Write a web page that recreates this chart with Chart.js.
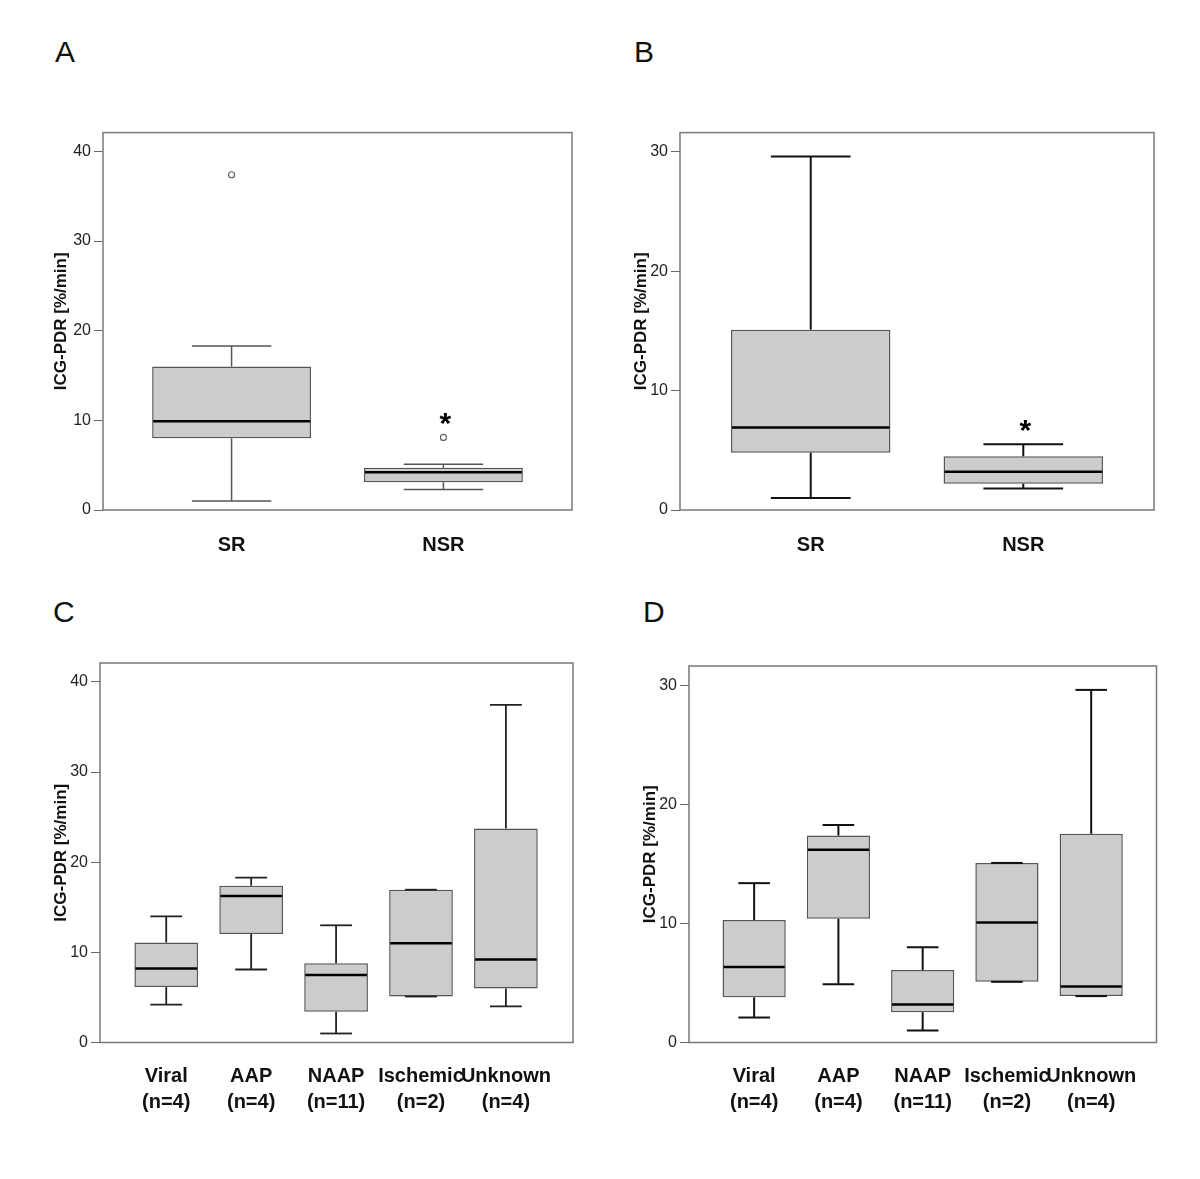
<!DOCTYPE html>
<html>
<head>
<meta charset="utf-8">
<script src="https://cdn.jsdelivr.net/npm/chart.js@4"></script>
<style>
  body { margin: 0; background: #fff; width: 1200px; height: 1179px; position: relative; font-family: "Liberation Sans", Arial, sans-serif; }
  .panel { position: absolute; }
  .letter { position: absolute; font-size: 30px; line-height: 30px; color: #111; }
</style>
</head>
<body>
<div class="letter" style="left:55px;top:37px">A</div>
<div class="letter" style="left:634px;top:37px">B</div>
<div class="letter" style="left:53px;top:597px">C</div>
<div class="letter" style="left:643px;top:597px">D</div>

<div class="panel" style="left:0;top:120px;width:600px;height:460px"><canvas id="chartA"></canvas></div>
<div class="panel" style="left:600px;top:120px;width:600px;height:460px"><canvas id="chartB"></canvas></div>
<div class="panel" style="left:0;top:640px;width:600px;height:500px"><canvas id="chartC"></canvas></div>
<div class="panel" style="left:600px;top:640px;width:600px;height:500px"><canvas id="chartD"></canvas></div>

<script>
const yTitle = "ICG-PDR [%/min]";
const rhythmLabels = ["SR", "NSR"];
const etiologyLabels = [["Viral", "(n=4)"], ["AAP", "(n=4)"], ["NAAP", "(n=11)"], ["Ischemic", "(n=2)"], ["Unknown", "(n=4)"]];

// A
const aLow = [1.0, 2.3];
const aQ1 = [8.0, 3.1];
const aMedian = [9.9, 4.2];
const aQ3 = [16.0, 4.7];
const aHigh = [18.3, 5.1];
const aOutlierX = [0, 1];
const aOutlierY = [37.4, 8.1];
const aStars = [null, 10.5];

// B
const bLow = [1.0, 1.8];
const bQ1 = [4.8, 2.2];
const bMedian = [6.9, 3.2];
const bQ3 = [15.1, 4.5];
const bHigh = [29.6, 5.5];
const bStars = [null, 7.3];

// C
const cLow = [4.2, 8.1, 1.0, 5.1, 4.0];
const cQ1 = [6.15, 12.05, 3.4, 5.1, 6.0];
const cMedian = [8.2, 16.25, 7.5, 11.0, 9.2];
const cQ3 = [11.1, 17.4, 8.8, 16.95, 23.75];
const cHigh = [14.0, 18.3, 13.0, 16.95, 37.45];

// D
const dLow = [2.1, 4.9, 1.0, 5.1, 3.9];
const dQ1 = [3.8, 10.4, 2.55, 5.1, 3.9];
const dMedian = [6.35, 16.2, 3.2, 10.1, 4.7];
const dQ3 = [10.3, 17.4, 6.1, 15.1, 17.55];
const dHigh = [13.4, 18.3, 8.0, 15.1, 29.65];

const font = "'Liberation Sans', Arial, sans-serif";

// whiskers, caps, medians, stars and the frame round the plot area
const boxExtras = {
    id: "boxExtras",
    afterDatasetsDraw(chart, args, opts) {
        const ctx = chart.ctx;
        const y = chart.scales.y;
        const bars = chart.getDatasetMeta(0).data;
        const line = (x1, y1, x2, y2) => {
            ctx.beginPath();
            ctx.moveTo(x1, y1);
            ctx.lineTo(x2, y2);
            ctx.stroke();
        };
        ctx.save();
        bars.forEach((bar, i) => {
            const x = bar.x;
            const half = bar.width / 2;
            const cap = bar.width / 4;
            const yLow = y.getPixelForValue(opts.low[i]);
            const yQ1 = y.getPixelForValue(opts.q1[i]);
            const yQ3 = y.getPixelForValue(opts.q3[i]);
            const yHigh = y.getPixelForValue(opts.high[i]);
            const yMed = y.getPixelForValue(opts.median[i]);
            ctx.strokeStyle = opts.whiskerColor;
            ctx.lineWidth = opts.whiskerWidth;
            line(x, yHigh, x, yQ3);
            line(x, yQ1, x, yLow);
            line(x - cap, yHigh, x + cap, yHigh);
            line(x - cap, yLow, x + cap, yLow);
            ctx.strokeStyle = "#000";
            ctx.lineWidth = 2.5;
            line(x - half + 1, yMed, x + half - 1, yMed);
            if (opts.stars && opts.stars[i] != null) {
                ctx.fillStyle = "#000";
                ctx.font = "bold 30px " + font;
                ctx.textAlign = "center";
                ctx.textBaseline = "alphabetic";
                ctx.fillText("*", x + 2, y.getPixelForValue(opts.stars[i]) + 17);
            }
        });
        const a = chart.chartArea;
        ctx.strokeStyle = "#777";
        ctx.lineWidth = 1.5;
        ctx.strokeRect(a.left, a.top, a.right - a.left, a.bottom - a.top);
        ctx.restore();
    },
};

function boxChart(id, labels, stats, setup) {
    const datasets = [{
        type: "bar",
        data: labels.map((l, i) => ({ x: i, y: [stats.q1[i], stats.q3[i]] })),
        backgroundColor: "#cccccc",
        borderColor: "#555",
        borderWidth: 1.5,
        borderSkipped: false,
        categoryPercentage: 1,
        barPercentage: 0.75,
    }];
    if (stats.outX) {
        datasets.push({
            type: "scatter",
            data: stats.outX.map((x, i) => ({ x: x, y: stats.outY[i] })),
            pointRadius: 3,
            pointBackgroundColor: "#fff",
            pointBorderColor: "#666",
            pointBorderWidth: 1.2,
        });
    }
    return new Chart(document.getElementById(id), {
        type: "bar",
        data: { datasets: datasets },
        plugins: [boxExtras],
        options: {
            responsive: true,
            maintainAspectRatio: false,
            animation: false,
            layout: { padding: setup.padding },
            plugins: {
                legend: { display: false },
                tooltip: { enabled: false },
                boxExtras: {
                    low: stats.low, q1: stats.q1, median: stats.median, q3: stats.q3, high: stats.high,
                    stars: stats.stars, whiskerColor: setup.whiskerColor, whiskerWidth: setup.whiskerWidth,
                },
            },
            scales: {
                x: {
                    type: "linear",
                    offset: false,
                    min: setup.xMin,
                    max: setup.xMax,
                    afterBuildTicks: (s) => { s.ticks = labels.map((l, i) => ({ value: i })); },
                    afterFit: (s) => { s.height = setup.xHeight; },
                    grid: { display: false, drawTicks: false, offset: false },
                    border: { display: false },
                    ticks: {
                        callback: (v) => labels[v],
                        autoSkip: false,
                        maxRotation: 0,
                        padding: setup.xPad,
                        color: "#111",
                        font: { family: font, size: 20, weight: "bold", lineHeight: 1.3 },
                    },
                },
                y: {
                    min: 0,
                    max: setup.yMax,
                    afterFit: (s) => { s.width = setup.yWidth; },
                    grid: { drawOnChartArea: false, tickLength: 9, color: "#666" },
                    border: { display: false },
                    ticks: {
                        stepSize: 10,
                        includeBounds: false,
                        padding: 3,
                        color: "#222",
                        font: { family: font, size: 16 },
                    },
                    title: {
                        display: true,
                        text: yTitle,
                        color: "#111",
                        padding: { top: setup.titlePad, bottom: 0 },
                        font: { family: font, size: 17, weight: "bold" },
                    },
                },
            },
        },
    });
}

boxChart("chartA", rhythmLabels,
    { low: aLow, q1: aQ1, median: aMedian, q3: aQ3, high: aHigh, outX: aOutlierX, outY: aOutlierY, stars: aStars },
    { xMin: -0.607, xMax: 1.607, yMax: 42.1, yWidth: 103, xHeight: 70, xPad: 22, titlePad: 51,
      padding: { left: 0, right: 28, top: 8, bottom: 0 }, whiskerColor: "#555", whiskerWidth: 1.5 });

boxChart("chartB", rhythmLabels,
    { low: bLow, q1: bQ1, median: bMedian, q3: bQ3, high: bHigh, stars: bStars },
    { xMin: -0.615, xMax: 1.615, yMax: 31.6, yWidth: 80, xHeight: 70, xPad: 22, titlePad: 31,
      padding: { left: 0, right: 46, top: 8, bottom: 0 }, whiskerColor: "#111", whiskerWidth: 2 });

boxChart("chartC", etiologyLabels,
    { low: cLow, q1: cQ1, median: cMedian, q3: cQ3, high: cHigh },
    { xMin: -0.78, xMax: 4.79, yMax: 42.1, yWidth: 100, xHeight: 97.5, xPad: 21, titlePad: 51,
      padding: { left: 0, right: 27, top: 23, bottom: 0 }, whiskerColor: "#222", whiskerWidth: 1.8 });

boxChart("chartD", etiologyLabels,
    { low: dLow, q1: dQ1, median: dMedian, q3: dQ3, high: dHigh },
    { xMin: -0.773, xMax: 4.775, yMax: 31.66, yWidth: 89, xHeight: 97.5, xPad: 21, titlePad: 40,
      padding: { left: 0, right: 43.5, top: 26, bottom: 0 }, whiskerColor: "#111", whiskerWidth: 2 });
</script>
</body>
</html>
